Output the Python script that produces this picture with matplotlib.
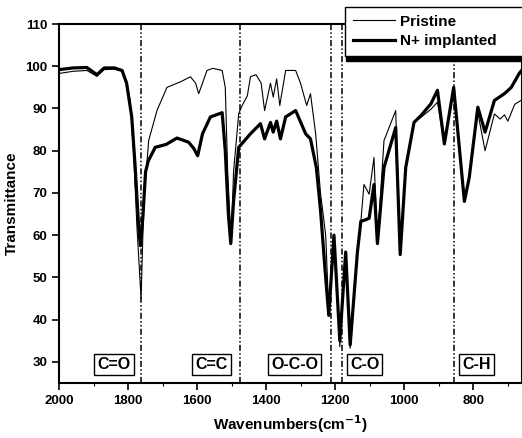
import matplotlib
matplotlib.use("Agg")
from matplotlib import pyplot as plt
from matplotlib.ticker import MultipleLocator

plt.rcParams['font.family'] = ['Liberation Sans', 'DejaVu Sans']

# pristine spectrum (wavenumber, transmittance)
w_pristine = [2000, 1960, 1920, 1891, 1870, 1840, 1818, 1805, 1795, 1785, 1775, 1763,
              1755, 1741, 1717, 1688, 1649, 1620, 1605, 1596, 1585, 1572, 1555, 1528,
              1519, 1512, 1502, 1495, 1480, 1470, 1455, 1446, 1430, 1415, 1405, 1388,
              1380, 1370, 1361, 1344, 1315, 1301, 1283, 1272, 1257, 1243, 1228, 1219,
              1204, 1187, 1170, 1157, 1136, 1126, 1117, 1102, 1088, 1078, 1059, 1025,
              1012, 996, 972, 952, 923, 904, 884, 857, 826, 812, 787, 766, 739, 722,
              710, 700, 680, 660]
t_pristine = [98.3, 98.8, 99.0, 97.6, 99.2, 99.3, 98.8, 96.5, 92, 80, 62, 45,
              68, 82.4, 89.5, 95, 96.3, 97.5, 96, 93.5, 96, 99, 99.5, 99,
              95, 75, 58, 75, 88.8, 90.7, 93, 97.5, 98, 96, 89.5, 96,
              92.7, 97, 90.7, 99, 99, 96, 90.7, 93.5, 84, 70, 60, 42,
              60.2, 33.6, 56.2, 33.2, 56.2, 63.3, 72, 69.7, 78.4, 58, 82.4, 89.5,
              55.4, 76, 86.7, 87.9, 89.8, 91.5, 81.6, 95, 68, 73.6, 89, 80, 88.7, 87.5,
              88.5, 87, 91, 92]

# N+ implanted spectrum
w_implanted = [2000, 1960, 1920, 1891, 1870, 1840, 1818, 1805, 1790, 1780, 1770, 1765,
               1758, 1750, 1742, 1722, 1690, 1659, 1625, 1610, 1599, 1585, 1562, 1528,
               1519, 1510, 1503, 1495, 1480, 1446, 1417, 1405, 1388, 1380, 1370, 1359,
               1344, 1315, 1286, 1272, 1255, 1243, 1230, 1219, 1204, 1187, 1170, 1157,
               1136, 1126, 1117, 1102, 1088, 1078, 1059, 1025, 1012, 996, 972, 952,
               923, 904, 884, 857, 826, 812, 787, 766, 739, 710, 690, 667, 660]
t_implanted = [99.2, 99.6, 99.7, 98.0, 99.6, 99.6, 99.0, 96, 88, 76, 62, 57.5,
               64, 75, 77.6, 80.8, 81.5, 83, 82, 80.5, 78.8, 84, 88, 89,
               80, 65, 58, 68, 80.8, 84, 86.4, 82.8, 86.7, 84.4, 87, 82.8,
               88, 89.5, 84, 82.8, 76, 66, 52, 41,
               60, 35, 56, 34,
               56, 63.3, 63.5, 64, 72, 58, 76, 85.5, 55.4, 76, 86.7, 88.3,
               91.1, 94.3, 81.6, 95, 68, 73.6, 90.3, 84.4, 91.9, 93.5, 95, 98.3, 99]

band_lines = [1762, 1475, 1213, 1182, 856]
band_names = ['C=O', 'C=C', 'O-C-O', 'C-O', 'C-H']
band_label_x = [1841, 1559, 1318, 1115, 790]

fig = plt.figure(figsize=(5.22, 4.38), dpi=100)
ax = fig.add_axes([0.1136, 0.1256, 0.8864, 0.8196])

ax.plot(w_implanted, t_implanted, color='black', lw=2.3, label='N+ implanted', zorder=3)
ax.plot(w_pristine, t_pristine, color='black', lw=0.8, label='Pristine', zorder=4)

for w in band_lines:
    ax.axvline(w, color='black', lw=1.1, linestyle=(0, (4, 1.5, 1, 1.5, 1, 1.5)), zorder=2)

for name, x in zip(band_names, band_label_x):
    ax.text(x, 29.4, name, ha='center', va='center', fontsize=11.5, fontweight='bold',
            bbox=dict(boxstyle='square,pad=0.2', fc='white', ec='black', lw=1.0))

ax.set_xlim(2000, 659)
ax.set_ylim(25, 110)
ax.xaxis.set_major_locator(MultipleLocator(200))
ax.xaxis.set_minor_locator(MultipleLocator(100))
ax.yaxis.set_major_locator(MultipleLocator(10))
ax.tick_params(axis='both', which='major', direction='out', length=5, width=1.2, labelsize=9.5)
ax.tick_params(axis='x', which='minor', direction='out', length=2.5, width=0.8)
for lab in ax.get_xticklabels() + ax.get_yticklabels():
    lab.set_fontweight('bold')
for s in ax.spines.values():
    s.set_linewidth(1.5)

ax.set_xlabel('Wavenumbers(cm$^{\\mathbf{-1}}$)', fontsize=11, fontweight='bold', labelpad=5)
ax.set_ylabel('Transmittance', fontsize=11, fontweight='bold', labelpad=5)

h, l = ax.get_legend_handles_labels()
leg = fig.legend(h[::-1], l[::-1], loc='upper left', bbox_to_anchor=(0.661, 0.88, 0.36, 0.104),
                 mode='expand', borderaxespad=0,
                 frameon=True, fancybox=False,
                 shadow={'color': 'black', 'alpha': 1, 'ox': 0.5, 'oy': -4},
                 edgecolor='black', prop={'weight': 'bold', 'size': 11},
                 handlelength=2.8, handletextpad=0.3, borderpad=0.5, labelspacing=0.35)
leg.get_frame().set_linewidth(1.0)

fig.savefig('out.png', dpi=100)
